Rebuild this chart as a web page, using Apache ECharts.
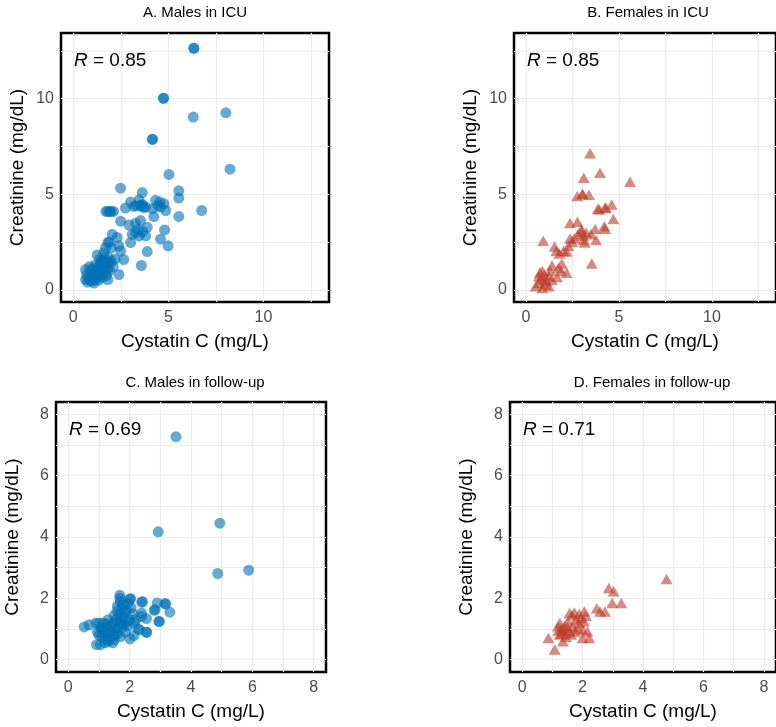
<!DOCTYPE html>
<html>
<head>
<meta charset="utf-8">
<script src="https://cdn.jsdelivr.net/npm/echarts@6/dist/echarts.min.js"></script>
<style>html,body{margin:0;padding:0;background:#fff}#c{width:776px;height:727px}</style>
</head>
<body>
<div id="c"></div>
<script>
// ---------- DATA (cystatin C mg/L, creatinine mg/dL) ----------
const panelTitles = ['A. Males in ICU', 'B. Females in ICU', 'C. Males in follow-up', 'D. Females in follow-up'];
const rValues = ['0.85', '0.85', '0.69', '0.71'];
const xAxisTitle = 'Cystatin C (mg/L)';
const yAxisTitle = 'Creatinine (mg/dL)';
const ticksICU = [0, 5, 10];
const gridICU = [0, 2.5, 5, 7.5, 10, 12.5];
const ticksFU = [0, 2, 4, 6, 8];
const gridFU = [0, 1, 2, 3, 4, 5, 6, 7, 8];

const malesICU_cys = [6.35,6.33,4.74,4.75,6.31,8.02,4.16,4.17,8.24,5.03,2.49,3.63,5.55,5.55,6.75,5.55,
  1.72,1.82,1.92,2.0,2.12,
  3.02,2.75,3.19,3.54,3.81,4.16,4.33,4.56,4.77,4.59,4.86,4.24,3.46,3.3,3.65,4.45,3.6,3.7,
  2.49,2.93,3.28,3.54,3.89,4.8,3.28,3.46,3.1,3.81,3.02,4.59,4.99,3.89,3.58,3.65,3.4,
  2.05,2.31,1.82,1.9,2.4,1.61,1.26,2.66,2.49,2.4,1.82,2.2,2.0,1.7,1.5,2.1,1.9,
  0.65,0.65,1.09,1.44,1.79,1.61,0.7,0.8,0.9,1.0,1.1,1.2,1.3,1.4,1.5,1.6,1.7,1.8,0.95,1.15,1.25,1.35,1.55,1.65,0.85,1.05,1.45,1.2,1.3,0.75,1.0,1.9,2.0,1.75,1.1,1.5,1.85,1.4];
const malesICU_cr = [12.63,12.65,10.03,10.02,9.04,9.26,7.88,7.87,6.31,6.04,5.32,5.09,5.18,4.8,4.15,3.84,
  4.1,4.1,4.1,4.1,4.1,
  4.59,4.28,4.36,4.42,4.33,4.24,4.68,4.59,4.5,4.33,4.15,3.83,4.71,4.4,4.45,4.4,4.38,4.3,
  3.59,3.39,3.48,3.62,3.27,3.13,2.99,2.82,2.9,2.82,2.47,2.65,2.3,2.0,1.27,3.05,3.15,
  2.9,2.74,2.47,2.5,2.3,1.94,1.82,1.58,2.03,0.8,0.53,1.6,2.2,2.2,1.5,1.2,1.4,
  1.06,0.53,0.35,0.97,1.41,1.68,0.8,0.6,0.9,1.1,0.8,0.6,1.2,0.7,1.0,1.3,0.9,1.1,0.45,1.3,0.95,0.5,0.65,1.45,1.2,0.7,1.35,1.05,0.8,0.4,0.55,1.0,1.5,0.75,0.5,1.2,1.7,1.6];

const femalesICU_cys = [3.45,3.11,3.98,5.6,2.76,3.04,3.04,3.39,3.86,3.95,4.3,4.25,4.61,4.7,4.21,4.25,3.72,2.37,2.77,2.98,3.0,3.24,3.07,3.16,3.1,3.77,3.5,2.37,2.28,2.02,1.63,1.54,0.93,3.54,1.93,1.75,1.4,2.19,1.89,0.88,1.23,0.7,0.96,1.4,1.67,0.7,1.05,0.52,1.23,0.88,0.8,1.0,1.1,2.5,2.2,1.8,2.6,2.8,1.3,0.75];
const femalesICU_cr = [7.15,5.86,6.13,5.65,4.91,5.03,5.0,4.97,4.24,4.2,4.29,4.3,4.46,3.71,3.32,3.2,3.18,3.49,3.56,3.18,3.05,3.0,2.83,2.47,2.6,2.61,2.9,2.68,2.3,2.03,2.03,2.26,2.57,1.38,1.38,1.15,1.27,0.89,0.98,0.98,0.71,0.71,0.53,0.53,0.67,0.35,0.27,0.18,0.18,0.09,0.6,0.8,0.45,2.5,2.0,1.9,2.7,2.9,1.0,0.9];

const malesFU_cys = [3.51,2.93,4.94,4.87,5.88,3.31,3.18,2.9,2.95,2.83,2.55,2.39,2.55,2.32,2.14,2.01,2.03,2.42,1.68,1.68,0.52,0.68,0.92,1.05,2.01,2.39,3.15,2.8,2.39,2.97,2.28,2.55,
  1.0,1.1,1.2,1.3,1.4,1.5,1.6,1.7,1.8,1.9,1.75,1.65,1.55,1.45,1.35,1.25,1.15,1.05,0.95,0.9,1.2,1.3,1.5,1.7,1.85,1.95,2.0,2.1,2.2,1.8,1.7,1.6,1.85,1.75,1.6,1.4,1.2,1.1,1.0,1.3,1.5,1.65,1.9,2.05,1.45,1.6,1.8,1.25,1.55,1.7,1.95,2.15];
const malesFU_cr = [7.27,4.17,4.45,2.81,2.92,1.55,1.82,1.85,1.25,1.63,1.34,1.52,0.9,0.98,0.79,0.68,1.99,1.9,2.1,2.0,1.07,1.14,0.49,0.49,1.98,1.87,1.83,1.61,1.41,1.25,1.0,0.89,
  0.8,1.0,0.7,0.9,1.1,0.8,1.0,1.2,1.4,1.6,1.7,1.5,1.3,1.2,0.7,1.15,1.2,1.05,0.9,1.2,0.55,0.6,0.65,0.75,0.9,1.1,1.3,1.5,1.3,1.8,1.9,1.75,1.55,1.05,0.85,0.95,0.9,0.75,1.2,1.3,1.45,1.25,1.25,1.7,0.55,1.6,1.15,0.8,1.05,1.4,1.85,1.2];

const femalesFU_cys = [4.78,2.87,3.03,2.98,3.28,2.47,2.58,2.74,1.57,1.73,1.89,2.06,2.11,1.19,1.35,1.46,1.24,1.62,1.68,1.89,2.0,2.16,2.22,0.87,1.08,1.35,2.0,1.78,1.95,1.51,1.3,1.4,1.55,1.2,1.75,1.85,1.45,1.25,2.05,1.65,1.3,1.5];
const femalesFU_cr = [2.63,2.34,2.23,1.85,1.85,1.68,1.57,1.57,1.52,1.54,1.5,1.57,1.43,1.09,0.96,0.87,0.82,0.82,1.09,1.2,0.98,0.92,0.71,0.71,0.33,0.6,0.71,1.31,1.36,1.25,1.0,1.1,0.95,0.95,0.9,1.0,0.75,1.2,1.25,1.45,0.85,1.05];

// ---------- STYLE / LAYOUT ----------
const FONT = "'Liberation Sans', Arial, Helvetica, sans-serif";
const BLUE = '#0072B5';
const RED = '#BC3C29';
const panels = [
  {grid: {left: 61, top: 33, width: 268, height: 269}, lim: [-0.64, 13.44], ticks: ticksICU, lines: gridICU,
   x: malesICU_cys, y: malesICU_cr, color: BLUE, symbol: 'circle', size: 11, title: [195, 13], r: [74, 61]},
  {grid: {left: 514, top: 33, width: 268, height: 269}, lim: [-0.64, 13.44], ticks: ticksICU, lines: gridICU,
   x: femalesICU_cys, y: femalesICU_cr, color: RED, symbol: 'triangle', size: [12, 10.5], title: [648, 13], r: [527, 61]},
  {grid: {left: 56, top: 402, width: 270, height: 270}, lim: [-0.4, 8.4], ticks: ticksFU, lines: gridFU,
   x: malesFU_cys, y: malesFU_cr, color: BLUE, symbol: 'circle', size: 11, title: [195, 383], r: [69, 430]},
  {grid: {left: 510, top: 402, width: 270, height: 270}, lim: [-0.4, 8.4], ticks: ticksFU, lines: gridFU,
   x: femalesFU_cys, y: femalesFU_cr, color: RED, symbol: 'triangle', size: [12, 10.5], title: [652, 383], r: [523, 430]}
];

function axis(p, i, isX) {
  return {
    type: 'value', gridIndex: i, min: p.lim[0], max: p.lim[1],
    name: isX ? xAxisTitle : yAxisTitle, nameLocation: 'middle', nameGap: isX ? 30 : 34,
    nameTextStyle: {fontFamily: FONT, fontSize: 19, color: '#000'},
    axisLine: {show: false},
    axisTick: {show: false, customValues: p.lines},
    axisLabel: {customValues: p.ticks, fontFamily: FONT, fontSize: 16, color: '#4D4D4D', margin: isX ? 8 : 7},
    splitLine: {show: true, lineStyle: {color: '#EBEBEB', width: 1.2}}
  };
}

const option = {
  animation: false,
  backgroundColor: '#fff',
  grid: panels.map(p => Object.assign({show: true, borderColor: '#000', borderWidth: 2.5, backgroundColor: 'transparent'}, p.grid)),
  xAxis: panels.map((p, i) => axis(p, i, true)),
  yAxis: panels.map((p, i) => axis(p, i, false)),
  series: panels.map((p, i) => ({
    type: 'scatter', xAxisIndex: i, yAxisIndex: i, symbol: p.symbol, symbolSize: p.size,
    data: p.x.map((v, k) => [v, p.y[k]]),
    itemStyle: {color: p.color, opacity: 0.6}, z: 3
  })),
  graphic: panels.flatMap((p, i) => [
    {type: 'text', x: p.title[0], y: p.title[1], style: {text: panelTitles[i], font: '15px ' + FONT, fill: '#000', align: 'center', verticalAlign: 'middle'}},
    {type: 'text', x: p.r[0], y: p.r[1], z: 10, style: {text: '{i|R} = ' + rValues[i], font: '19px ' + FONT, fill: '#000', align: 'left', verticalAlign: 'middle',
      rich: {i: {fontStyle: 'italic', fontFamily: FONT, fontSize: 19, fill: '#000'}}}}
  ])
};
const chart = echarts.init(document.getElementById('c'), null, {renderer: 'canvas'});
chart.setOption(option);
</script>
</body>
</html>
